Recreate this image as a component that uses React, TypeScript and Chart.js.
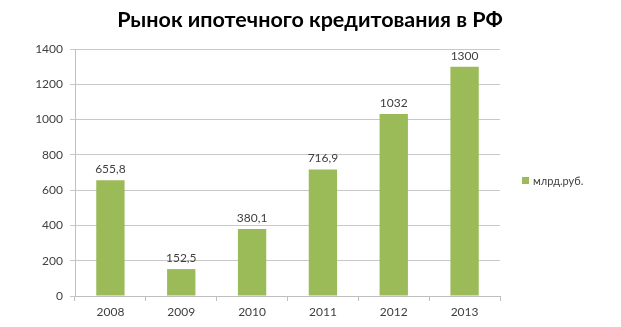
import React, { useEffect, useRef } from "react";
import { Chart, registerables } from "chart.js";

Chart.register(...registerables);

const categories = ["2008", "2009", "2010", "2011", "2012", "2013"];
const values = [655.8, 152.5, 380.1, 716.9, 1032, 1300];
const valueLabels = ["655,8", "152,5", "380,1", "716,9", "1032", "1300"];
const yTicks = [0, 200, 400, 600, 800, 1000, 1200, 1400];
const seriesName = "млрд.руб.";
const titleText = "Рынок ипотечного кредитования в РФ";

const GREEN = "#9bbb59";
const TEXT = "#404040";
const FONT = "Lato, 'Open Sans', sans-serif";

export default function App() {
  const ref = useRef<HTMLCanvasElement | null>(null);

  useEffect(() => {
    document.body.style.margin = "0";
    const canvas = ref.current;
    if (!canvas) return;

    const overlay = {
      id: "overlay",
      afterDatasetsDraw(chart: any) {
        const ctx = chart.ctx;
        ctx.save();
        // data labels
        const meta = chart.getDatasetMeta(0);
        ctx.fillStyle = TEXT;
        ctx.font = `12px ${FONT}`;
        ctx.textAlign = "center";
        ctx.textBaseline = "bottom";
        meta.data.forEach((bar: any, i: number) => {
          ctx.fillText(valueLabels[i], bar.x, bar.y - 5);
        });
        // title
        ctx.fillStyle = "#000000";
        ctx.font = `bold 21.5px ${FONT}`;
        ctx.textBaseline = "middle";
        ctx.fillText(titleText, 310, 20);
        // legend
        ctx.fillStyle = GREEN;
        ctx.fillRect(522, 177, 7, 7);
        ctx.fillStyle = TEXT;
        ctx.font = `11px ${FONT}`;
        ctx.textAlign = "left";
        ctx.fillText(seriesName, 533, 181);
        ctx.restore();
      },
    };

    const chart = new Chart(canvas, {
      type: "bar",
      data: {
        labels: categories,
        datasets: [
          {
            label: seriesName,
            data: values,
            backgroundColor: GREEN,
            barPercentage: 0.4,
            categoryPercentage: 1,
          },
        ],
      },
      options: {
        animation: false,
        responsive: false,
        devicePixelRatio: 1,
        layout: { padding: { top: 49, right: 121, left: 0, bottom: 0 } },
        plugins: {
          legend: { display: false },
          title: { display: false },
          tooltip: { enabled: false },
        },
        scales: {
          x: {
            offset: true,
            grid: {
              display: true,
              offset: true,
              drawOnChartArea: false,
              tickLength: 5,
              color: "#bfbfbf",
            },
            border: { color: "#bfbfbf" },
            ticks: { color: TEXT, font: { family: FONT, size: 12 }, padding: 4 },
            afterFit(scale: any) {
              scale.height = 31;
            },
          },
          y: {
            min: 0,
            max: 1400,
            afterBuildTicks(scale: any) {
              scale.ticks = yTicks.map((v) => ({ value: v }));
            },
            grid: { color: "#c8c8c8", tickLength: 5 },
            border: { color: "#bfbfbf" },
            ticks: {
              color: TEXT,
              font: { family: FONT, size: 12 },
              padding: 7,
              callback: (v: any) => String(v),
            },
            afterFit(scale: any) {
              scale.width = 75;
            },
          },
        },
      },
      plugins: [overlay],
    });

    return () => chart.destroy();
  }, []);

  return <canvas ref={ref} width={621} height={327} style={{ display: "block" }} />;
}
